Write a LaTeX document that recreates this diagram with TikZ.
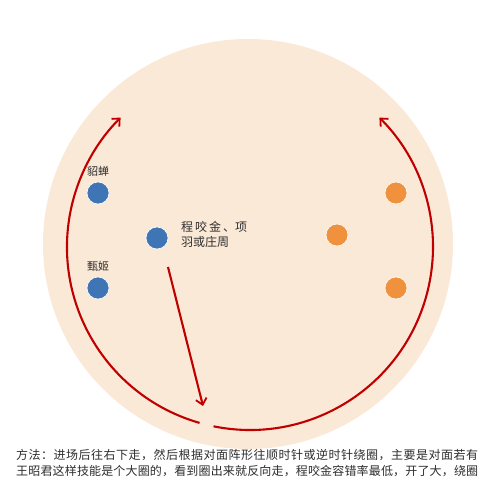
\documentclass[tikz,border=0pt]{standalone}
\usepackage{fontspec}
\setmainfont{Noto Sans CJK SC}
\usetikzlibrary{arrows.meta}
\definecolor{peach}{HTML}{FBE9D7}
\definecolor{redarc}{HTML}{C00000}
\definecolor{bluedot}{HTML}{3F74B5}
\definecolor{orangedot}{HTML}{F0923D}
\definecolor{txt}{HTML}{2E2E2E}
\def\spreadit#1{\ifx#1\relax\else#1\hfil\expandafter\spreadit\fi}
\tikzset{
  bdot/.style={circle,fill=bluedot,draw=white,line width=0.6pt,minimum size=22pt,inner sep=0pt},
  odot/.style={circle,fill=orangedot,draw=white,line width=0.6pt,minimum size=22pt,inner sep=0pt},
  lbl/.style={text=txt,font=\fontsize{11}{13}\selectfont,inner sep=0pt},
  redline/.style={draw=redarc,line width=2.1pt,-{Straight Barb[length=6pt,width=11pt,line width=1.8pt]}},
  bottomtxt/.style={text=txt,font=\fontsize{12}{14}\selectfont,inner sep=0pt,anchor=west}
}
\begin{document}
\begin{tikzpicture}[x=1pt,y=1pt]
\useasboundingbox (0,0) rectangle (490,484);
\fill[white] (0,0) rectangle (490,484);
% big circle
\coordinate (C) at (248,240);
\fill[peach] (C) circle[radius=205];
% red arcs
\coordinate (R) at (250,237);
\draw[redline] (R) ++(254:183) arc[start angle=254,end angle=135,radius=183];
\draw[redline] (R) ++(258.5:183) arc[start angle=258.5,end angle=405,radius=183];
% dots
\node[bdot] (d1) at (98,291) {};
\node[bdot] (d2) at (98,196) {};
\node[bdot] (d3) at (157,246) {};
\node[odot] (o1) at (396,291) {};
\node[odot] (o2) at (337,249) {};
\node[odot] (o3) at (396,196) {};
% labels
\node[lbl] (l1) at (98,313) {貂蝉};
\node[lbl] (l2) at (98,218) {甄姬};
\node[lbl,anchor=west,align=left,font=\fontsize{12}{15}\selectfont] (l3) at (181,249.5) {程\,咬\,金\,、项\\羽或庄周};
% straight arrow
\coordinate (a1) at (168,217);
\coordinate (a2) at (203,78);
\draw[redline] (a1) -- (a2);
% bottom text
\node[bottomtxt] (t1) at (16,29) {\makebox[462pt][s]{\spreadit 方法：进场后往右下走，然后根据对面阵形往顺时针或逆时针绕圈，主要是对面若有\relax\unskip}};
\node[bottomtxt] (t2) at (16,13) {\makebox[462pt][s]{\spreadit 王昭君这样技能是个大圈的，看到圈出来就反向走，程咬金容错率最低，开了大，绕圈\relax\unskip}};
\end{tikzpicture}
\end{document}
